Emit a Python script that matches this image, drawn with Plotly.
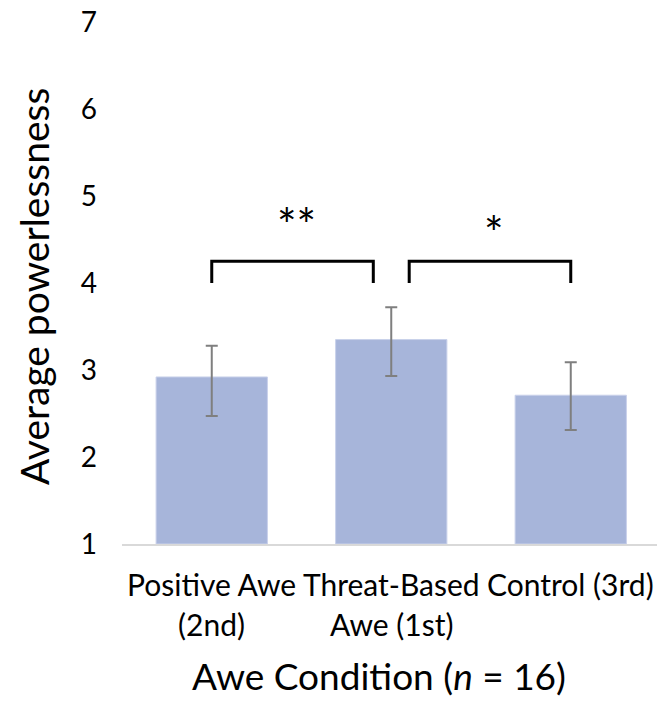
import plotly.graph_objects as go

# ---- data ----
categories = ["Positive Awe", "Threat-Based", "Control (3rd)"]
category_line2 = ["(2nd)", "Awe (1st)", ""]
means = [2.92, 3.35, 2.71]
err_plus = [0.36, 0.37, 0.38]
err_minus = [0.45, 0.42, 0.40]
y_ticks = [1, 2, 3, 4, 5, 6, 7]

# significance brackets: (start, end, label)
sig_start = [0.0, 1.1]
sig_end = [0.9, 2.0]
sig_label = ["**", "*"]
sig_label_y = [4.67, 4.58]
sig_low = 4.0
sig_high = 4.25

FONT = "Lato"
x_idx = list(range(len(categories)))

fig = go.Figure()
fig.add_trace(go.Bar(
    x=x_idx, y=[m - 1 for m in means], base=1,
    width=0.62,
    marker=dict(color="#A7B5DA", line=dict(color="#C9D1EA", width=1)),
    error_y=dict(type="data", symmetric=False, array=err_plus, arrayminus=err_minus,
                 color="#7F7F7F", thickness=2, width=6),
    hoverinfo="skip",
))

shapes = []
annotations = []
for s, e, lab, ly in zip(sig_start, sig_end, sig_label, sig_label_y):
    shapes.append(dict(type="path", xref="x", yref="y",
                       path=f"M {s},{sig_low} L {s},{sig_high} L {e},{sig_high} L {e},{sig_low}",
                       line=dict(color="black", width=3)))
    annotations.append(dict(x=(s + e) / 2 + 0.02, y=ly, xref="x", yref="y",
                            text=lab, showarrow=False, yanchor="middle",
                            font=dict(family=FONT, size=46, color="black")))

for i, (l1, l2) in enumerate(zip(categories, category_line2)):
    annotations.append(dict(x=i, y=-0.076, xref="x", yref="paper", text=l1, showarrow=False,
                            yanchor="middle", font=dict(family=FONT, size=30, color="black")))
    if l2:
        annotations.append(dict(x=i, y=-0.154, xref="x", yref="paper", text=l2, showarrow=False,
                                yanchor="middle", font=dict(family=FONT, size=30, color="black")))

annotations.append(dict(x=379, y=675, xref="paper", yref="paper", text="Awe Condition (<i>n</i> = 16)",
                        showarrow=False, xanchor="center", yanchor="middle",
                        font=dict(family=FONT, size=37, color="black")))
annotations.append(dict(x=34, y=287, xref="paper", yref="paper", text="Average powerlessness",
                        showarrow=False, textangle=-90, xanchor="center", yanchor="middle",
                        font=dict(family=FONT, size=39, color="black")))

# convert pixel-placed title annotations into paper coords
W, H = 657, 702
ml, mr, mt, mb = 122, 0, 22, 158
pw, ph = W - ml - mr, H - mt - mb
for a in annotations[-2:]:
    a["x"] = (a["x"] - ml) / pw
    a["y"] = (H - mb - a["y"]) / ph

fig.update_layout(
    width=W, height=H,
    margin=dict(l=ml, r=mr, t=mt, b=mb),
    paper_bgcolor="white", plot_bgcolor="white",
    showlegend=False,
    shapes=shapes,
    annotations=annotations,
    xaxis=dict(range=[-0.5, -0.5 + pw / 179.5], showticklabels=False, ticks="",
               showgrid=False, zeroline=False, showline=True, linecolor="#D9D9D9", linewidth=2,
               fixedrange=True),
    yaxis=dict(range=[1, 7], tickvals=y_ticks, ticktext=[str(t) for t in y_ticks],
               showgrid=False, zeroline=False, showline=False, ticks="",
               ticklabelstandoff=24,
               tickfont=dict(family=FONT, size=28, color="black"), fixedrange=True),
)

fig.write_html("out.html")
